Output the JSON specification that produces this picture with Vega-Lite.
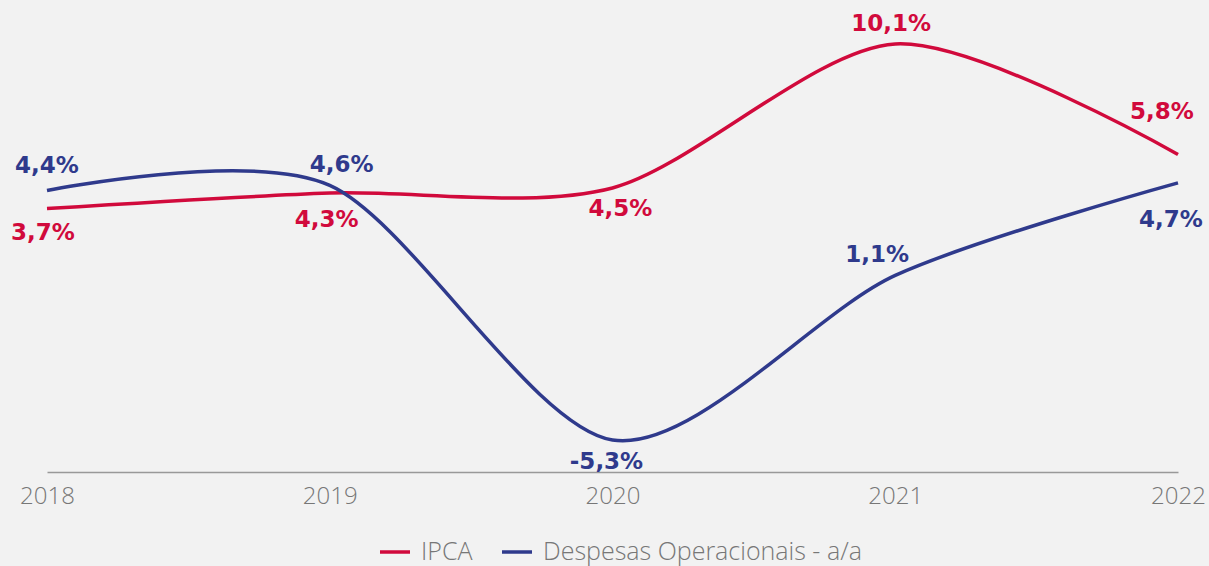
{
  "$schema": "https://vega.github.io/schema/vega-lite/v6.json",
  "width": 1131,
  "height": 472,
  "autosize": "none",
  "padding": {"left": 47, "top": 0, "right": 31, "bottom": 94},
  "background": "#f2f2f2",
  "config": {"view": {"stroke": null}, "text": {"font": "DejaVu Sans", "fontSize": 23, "fontWeight": "bold", "baseline": "middle"}},
  "data": {
    "values": [
      {"year": 2018, "series": "IPCA", "value": 3.7, "label": "3,7%"},
      {"year": 2019, "series": "IPCA", "value": 4.3, "label": "4,3%"},
      {"year": 2020, "series": "IPCA", "value": 4.5, "label": "4,5%"},
      {"year": 2021, "series": "IPCA", "value": 10.1, "label": "10,1%"},
      {"year": 2022, "series": "IPCA", "value": 5.8, "label": "5,8%"},
      {"year": 2018, "series": "Despesas Operacionais - a/a", "value": 4.4, "label": "4,4%"},
      {"year": 2019, "series": "Despesas Operacionais - a/a", "value": 4.6, "label": "4,6%"},
      {"year": 2020, "series": "Despesas Operacionais - a/a", "value": -5.3, "label": "-5,3%"},
      {"year": 2021, "series": "Despesas Operacionais - a/a", "value": 1.1, "label": "1,1%"},
      {"year": 2022, "series": "Despesas Operacionais - a/a", "value": 4.7, "label": "4,7%"}
    ]
  },
  "encoding": {
    "x": {
      "field": "year", "type": "quantitative",
      "scale": {"domain": [2018, 2022], "nice": false, "zero": false},
      "axis": {
        "title": null, "values": [2018, 2019, 2020, 2021, 2022], "format": "d",
        "grid": false, "ticks": false, "domainColor": "#999999", "domainWidth": 1.5,
        "labelFont": "Open Sans", "labelFontSize": 24, "labelFontWeight": 300, "labelColor": "#777777",
        "labelPadding": 12, "labelFlush": false, "labelOverlap": false
      }
    },
    "y": {
      "field": "value", "type": "quantitative",
      "scale": {"domain": [-6.546, 11.81], "nice": false, "zero": false},
      "axis": null
    },
    "color": {
      "field": "series", "type": "nominal",
      "scale": {"domain": ["IPCA", "Despesas Operacionais - a/a"], "range": ["#D10A3C", "#2F3A8C"]},
      "legend": null
    }
  },
  "layer": [
    {
      "mark": {"type": "line", "interpolate": "cardinal", "tension": 0.15, "strokeWidth": 3.5},
      "encoding": {
        "color": {
          "field": "series", "type": "nominal",
          "scale": {"domain": ["IPCA", "Despesas Operacionais - a/a"], "range": ["#D10A3C", "#2F3A8C"]},
          "legend": {
            "title": null, "orient": "none", "direction": "horizontal",
            "legendX": 331, "legendY": 535,
            "symbolType": "stroke", "symbolStrokeWidth": 3.5, "symbolSize": 900,
            "labelFont": "Open Sans", "labelFontSize": 25, "labelFontWeight": 300, "labelColor": "#777777",
            "labelOffset": 9, "columnPadding": 22, "labelLimit": 500
          }
        }
      }
    },
    {"transform": [{"filter": "datum.series == 'IPCA' && datum.year == 2018"}], "mark": {"type": "text", "dy": 24, "dx": -4}, "encoding": {"text": {"field": "label"}}},
    {"transform": [{"filter": "datum.series == 'IPCA' && datum.year == 2019"}], "mark": {"type": "text", "dy": 27, "dx": -3}, "encoding": {"text": {"field": "label"}}},
    {"transform": [{"filter": "datum.series == 'IPCA' && datum.year == 2020"}], "mark": {"type": "text", "dy": 21, "dx": 8}, "encoding": {"text": {"field": "label"}}},
    {"transform": [{"filter": "datum.series == 'IPCA' && datum.year == 2021"}], "mark": {"type": "text", "dy": -20, "dx": -4}, "encoding": {"text": {"field": "label"}}},
    {"transform": [{"filter": "datum.series == 'IPCA' && datum.year == 2022"}], "mark": {"type": "text", "dy": -43, "dx": -16}, "encoding": {"text": {"field": "label"}}},
    {"transform": [{"filter": "datum.series != 'IPCA' && datum.year == 2018"}], "mark": {"type": "text", "dy": -25, "dx": 0}, "encoding": {"text": {"field": "label"}}},
    {"transform": [{"filter": "datum.series != 'IPCA' && datum.year == 2019"}], "mark": {"type": "text", "dy": -20, "dx": 12}, "encoding": {"text": {"field": "label"}}},
    {"transform": [{"filter": "datum.series != 'IPCA' && datum.year == 2020"}], "mark": {"type": "text", "dy": 22, "dx": -6}, "encoding": {"text": {"field": "label"}}},
    {"transform": [{"filter": "datum.series != 'IPCA' && datum.year == 2021"}], "mark": {"type": "text", "dy": -20, "dx": -18}, "encoding": {"text": {"field": "label"}}},
    {"transform": [{"filter": "datum.series != 'IPCA' && datum.year == 2022"}], "mark": {"type": "text", "dy": 37, "dx": -7}, "encoding": {"text": {"field": "label"}}}
  ]
}
